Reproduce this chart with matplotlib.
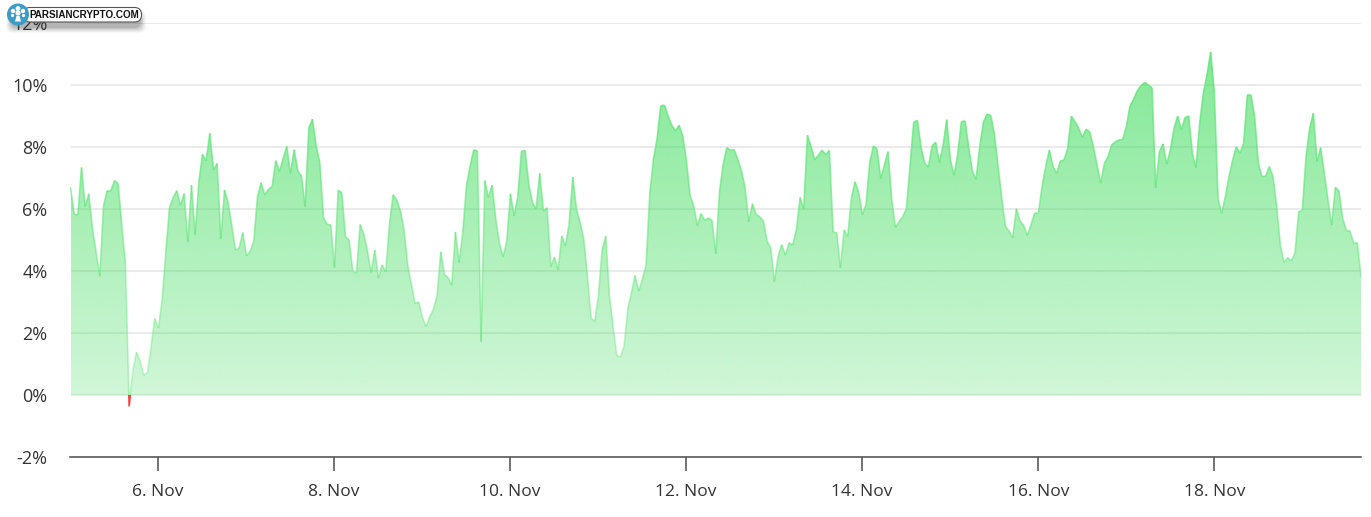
# Hourly percent change area chart with a small logo badge in the corner
import numpy as np
import pandas as pd
import matplotlib
matplotlib.use("Agg")
import matplotlib.pyplot as plt
import matplotlib.dates as mdates
from matplotlib.collections import LineCollection
from matplotlib.patches import Circle, FancyBboxPatch, Polygon, Rectangle

firstTime = "2021-11-05 00:12"
lastTime = "2021-11-19 16:00"

pctChange = [
    6.70, 5.83, 5.81, 7.34, 6.08, 6.49, 5.35, 4.60, 3.84, 6.10, 6.59, 6.59, 6.92, 6.82, 5.46, 4.22,
    -0.35, 0.78, 1.38, 1.10, 0.64, 0.72, 1.58, 2.47, 2.16, 3.09, 4.60, 6.05, 6.37, 6.59, 6.12, 6.50,
    4.94, 6.77, 5.17, 6.86, 7.76, 7.55, 8.44, 7.26, 7.47, 5.03, 6.61, 6.21, 5.46, 4.68, 4.73, 5.24,
    4.49, 4.63, 4.97, 6.40, 6.85, 6.45, 6.64, 6.72, 7.56, 7.21, 7.63, 8.02, 7.15, 7.91, 7.23, 7.07,
    6.08, 8.61, 8.90, 8.04, 7.50, 5.73, 5.50, 5.49, 4.11, 6.60, 6.53, 5.11, 5.00, 4.00, 3.93, 5.50,
    5.19, 4.65, 3.95, 4.68, 3.77, 4.20, 3.97, 5.51, 6.46, 6.29, 5.94, 5.30, 4.17, 3.57, 2.95, 3.00,
    2.50, 2.21, 2.53, 2.77, 3.22, 4.62, 3.88, 3.79, 3.54, 5.26, 4.27, 5.24, 6.75, 7.40, 7.91, 7.87,
    1.72, 6.92, 6.37, 6.77, 5.67, 4.90, 4.46, 4.97, 6.49, 5.78, 6.40, 7.86, 7.89, 6.80, 6.21, 6.00,
    7.15, 5.93, 6.04, 4.14, 4.45, 4.04, 5.13, 4.81, 5.51, 7.03, 6.00, 5.57, 5.03, 3.84, 2.48, 2.37,
    3.20, 4.68, 5.13, 3.20, 2.23, 1.28, 1.22, 1.58, 2.77, 3.30, 3.86, 3.35, 3.74, 4.19, 6.48, 7.61,
    8.26, 9.33, 9.35, 9.00, 8.70, 8.52, 8.70, 8.36, 7.56, 6.43, 6.10, 5.46, 5.85, 5.63, 5.71, 5.63,
    4.56, 6.53, 7.42, 7.98, 7.89, 7.92, 7.61, 7.23, 6.69, 5.59, 6.17, 5.83, 5.75, 5.61, 4.96, 4.75,
    3.66, 4.48, 4.85, 4.51, 4.91, 4.84, 5.34, 6.38, 5.99, 8.38, 8.02, 7.59, 7.74, 7.90, 7.75, 7.89,
    5.25, 5.24, 4.10, 5.32, 5.11, 6.37, 6.88, 6.53, 5.82, 6.15, 7.50, 8.03, 7.94, 6.98, 7.42, 7.85,
    6.31, 5.41, 5.59, 5.75, 6.01, 7.39, 8.80, 8.86, 7.99, 7.48, 7.35, 8.04, 8.15, 7.50, 8.04, 8.88,
    7.59, 7.09, 7.77, 8.82, 8.84, 7.99, 7.21, 6.96, 7.99, 8.80, 9.06, 9.02, 8.42, 7.39, 6.37, 5.44,
    5.29, 5.07, 6.01, 5.61, 5.47, 5.15, 5.50, 5.87, 5.86, 6.72, 7.37, 7.90, 7.37, 7.15, 7.55, 7.58,
    7.96, 8.99, 8.82, 8.60, 8.31, 8.57, 8.49, 8.01, 7.42, 6.83, 7.47, 7.69, 8.06, 8.17, 8.23, 8.24,
    8.66, 9.33, 9.54, 9.82, 9.98, 10.08, 10.00, 9.91, 6.69, 7.85, 8.10, 7.45, 7.90, 8.60, 9.00, 8.55,
    8.95, 9.00, 7.80, 7.34, 8.76, 9.73, 10.32, 11.06, 9.73, 6.34, 5.86, 6.40, 7.04, 7.58, 8.01, 7.80,
    8.12, 9.67, 9.67, 8.96, 7.47, 7.04, 7.06, 7.37, 7.04, 6.08, 4.84, 4.27, 4.43, 4.32, 4.59, 5.91,
    5.96, 7.67, 8.60, 9.09, 7.52, 7.98, 7.15, 6.29, 5.48, 6.70, 6.58, 5.70, 5.31, 5.29, 4.89, 4.92,
    3.82,
]

yTicks = [-2, 0, 2, 4, 6, 8, 10, 12]
yTickLabels = ["-2%", "0%", "2%", "4%", "6%", "8%", "10%", "12%"]
xTickDates = ["2021-11-06", "2021-11-08", "2021-11-10", "2021-11-12", "2021-11-14", "2021-11-16", "2021-11-18"]
xTickLabels = ["6. Nov", "8. Nov", "10. Nov", "12. Nov", "14. Nov", "16. Nov", "18. Nov"]

plt.rcParams['font.family'] = ['Open Sans', 'DejaVu Sans']

times = pd.date_range(firstTime, lastTime, periods=len(pctChange))
xs = mdates.date2num(times)
ys = np.array(pctChange)

fig = plt.figure(figsize=(13.71, 5.17), dpi=100)
ax = fig.add_axes([70.5 / 1371, (517 - 457) / 517, (1361 - 70.5) / 1371, (457 - 23) / 517])
ax.set_xlim(xs[0], xs[-1])
ax.set_ylim(-2, 12)

# Grid
ax.set_axisbelow(True)
ax.yaxis.grid(True, color="#e6e6e6", linewidth=1.1)
for side in ["top", "left", "right"]:
    ax.spines[side].set_visible(False)
ax.spines["bottom"].set_color("#4d4d4d")
ax.spines["bottom"].set_linewidth(1.1)

ax.set_yticks(yTicks)
ax.set_yticklabels(yTickLabels, fontsize=13, color="#333333")
ax.tick_params(axis="y", length=0, pad=16.5)
ax.set_xticks(mdates.date2num(pd.to_datetime(xTickDates)))
ax.set_xticklabels(xTickLabels, fontsize=12.5, color="#333333")
ax.tick_params(axis="x", length=10, width=1.1, color="#4d4d4d", pad=9.5)

# Area above zero, gradient fading towards the baseline
positive = np.maximum(ys, 0)
outline = np.column_stack([np.r_[xs[0], xs, xs[-1]], np.r_[0, positive, 0]])
areaClip = Polygon(outline, closed=True, transform=ax.transData, facecolor="none", edgecolor="none")
ax.add_patch(areaClip)
alpha = np.linspace(0.64, 0.24, 256).reshape(-1, 1)
gradient = np.zeros((256, 1, 4))
gradient[..., 0] = 60 / 255
gradient[..., 1] = 220 / 255
gradient[..., 2] = 90 / 255
gradient[..., 3] = alpha
area = ax.imshow(gradient, extent=[xs[0], xs[-1], 0, ys.max()], aspect="auto", origin="upper",
                 interpolation="bilinear", zorder=2)
area.set_clip_path(areaClip)
ax.set_xlim(xs[0], xs[-1])
ax.set_ylim(-2, 12)

# Outline gets paler lower down as well
points = np.column_stack([xs, ys])
segments = np.stack([points[:-1], points[1:]], axis=1)
mids = np.clip((ys[:-1] + ys[1:]) / 2 / 11.0, 0, 1)
lineColors = np.zeros((len(segments), 4))
lineColors[:, 0] = 100 / 255
lineColors[:, 1] = 230 / 255
lineColors[:, 2] = 125 / 255
lineColors[:, 3] = 0.3 + 0.6 * mids
upper = LineCollection(segments, colors=lineColors, linewidths=1.2, zorder=3)
ax.add_collection(upper)
upper.set_clip_path(Rectangle((xs[0], 0), xs[-1] - xs[0], 12, transform=ax.transData))

# The dip below zero turns red
lower, = ax.plot(xs, ys, color="#ff3b3b", linewidth=1.2, zorder=3)
lower.set_clip_path(Rectangle((xs[0], -2), xs[-1] - xs[0], 2, transform=ax.transData))

# Badge, drawn in pixel coordinates over everything else
badge = fig.add_axes([0, 0, 1, 1], zorder=10)
badge.set_xlim(0, 1371)
badge.set_ylim(517, 0)
badge.axis("off")
badge.patch.set_alpha(0)

for grow, shade in [(5, 0.04), (4, 0.05), (3, 0.06), (2, 0.08), (1, 0.09), (0, 0.11)]:
    badge.add_patch(FancyBboxPatch((11 - grow, 15 - grow), 130 + 2 * grow, 13 + 2 * grow,
                                   boxstyle="round,pad=0,rounding_size=7", facecolor="#333333",
                                   edgecolor="none", alpha=shade))
badge.add_patch(FancyBboxPatch((23, 7.5), 118.5, 14.5, boxstyle="round,pad=0,rounding_size=7",
                               facecolor="white", edgecolor="#555555", linewidth=0.8))
badge.text(29.5, 15, "PARSIANCRYPTO.COM", family="Liberation Sans", fontweight="bold", fontsize=7.1,
           color="#111111", va="center", ha="left")
badge.add_patch(Circle((18, 14.5), 11, facecolor="#3b9cc6", edgecolor="none"))

# Little white tree inside the round icon
badge.add_patch(Polygon([(16.5, 16), (19.5, 16), (21, 21.5), (15, 21.5)], closed=True, facecolor="white",
                        edgecolor="none"))
for cx, cy, r in [(18, 8.5, 2.4), (13, 11, 2.2), (23, 11, 2.2), (12.5, 15.5, 1.6), (23.5, 15.5, 1.6), (18, 13, 2.6)]:
    badge.add_patch(Circle((cx, cy), r, facecolor="white", edgecolor="none"))

fig.savefig("out.png", dpi=100, facecolor="white")
